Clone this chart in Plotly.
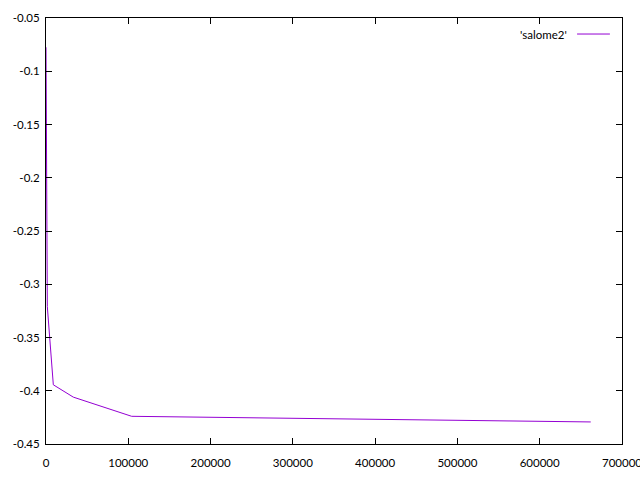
import plotly.graph_objects as go

# data
x_vals = [0, 1600, 8900, 33200, 104100, 662000]
y_vals = [-0.0775, -0.321, -0.3944, -0.406, -0.424, -0.4293]
series_name = "'salome2'"

x_ticks = [0, 100000, 200000, 300000, 400000, 500000, 600000, 700000]
x_ticktext = ["0", "100000", "200000", "300000", "400000", "500000", "600000", "700000"]
y_ticks = [-0.45, -0.4, -0.35, -0.3, -0.25, -0.2, -0.15, -0.1, -0.05]
y_ticktext = ["-0.45", "-0.4", "-0.35", "-0.3", "-0.25", "-0.2", "-0.15", "-0.1", "-0.05"]

color = "#9400D3"
font = dict(family="Lato, Noto Sans, sans-serif", size=11.5, color="black")

fig = go.Figure()
fig.add_trace(go.Scatter(x=x_vals, y=y_vals, mode="lines",
                         line=dict(color=color, width=1), name=series_name,
                         showlegend=False))

axis_common = dict(showline=True, linecolor="black", linewidth=1, mirror="ticks",
                   ticks="inside", ticklen=6, tickcolor="black", tickwidth=1,
                   showgrid=False, zeroline=False, tickfont=font, automargin=False)

fig.update_xaxes(range=[0, 700000], tickvals=x_ticks, ticktext=x_ticktext,
                 ticklabeloverflow="allow", ticklabelstandoff=8, **axis_common)
fig.update_yaxes(range=[-0.45, -0.05], tickvals=y_ticks, ticktext=y_ticktext,
                 ticklabeloverflow="allow", ticklabelstandoff=3, **axis_common)

# gnuplot-style key: text then line sample
fig.add_annotation(xref="paper", yref="paper", x=0.908, y=0.9624, text=series_name,
                   showarrow=False, xanchor="right", yanchor="middle", font=font)
fig.add_shape(type="line", xref="paper", yref="paper", x0=0.922, x1=0.979,
              y0=0.9624, y1=0.9624, line=dict(color=color, width=1))

fig.update_layout(width=640, height=480, margin=dict(l=46, r=18, t=18, b=36),
                  plot_bgcolor="white", paper_bgcolor="white", font=font)

fig.write_html("out.html", config={"displayModeBar": False},
               post_script="document.body.style.margin='0';document.body.style.overflow='hidden';")
